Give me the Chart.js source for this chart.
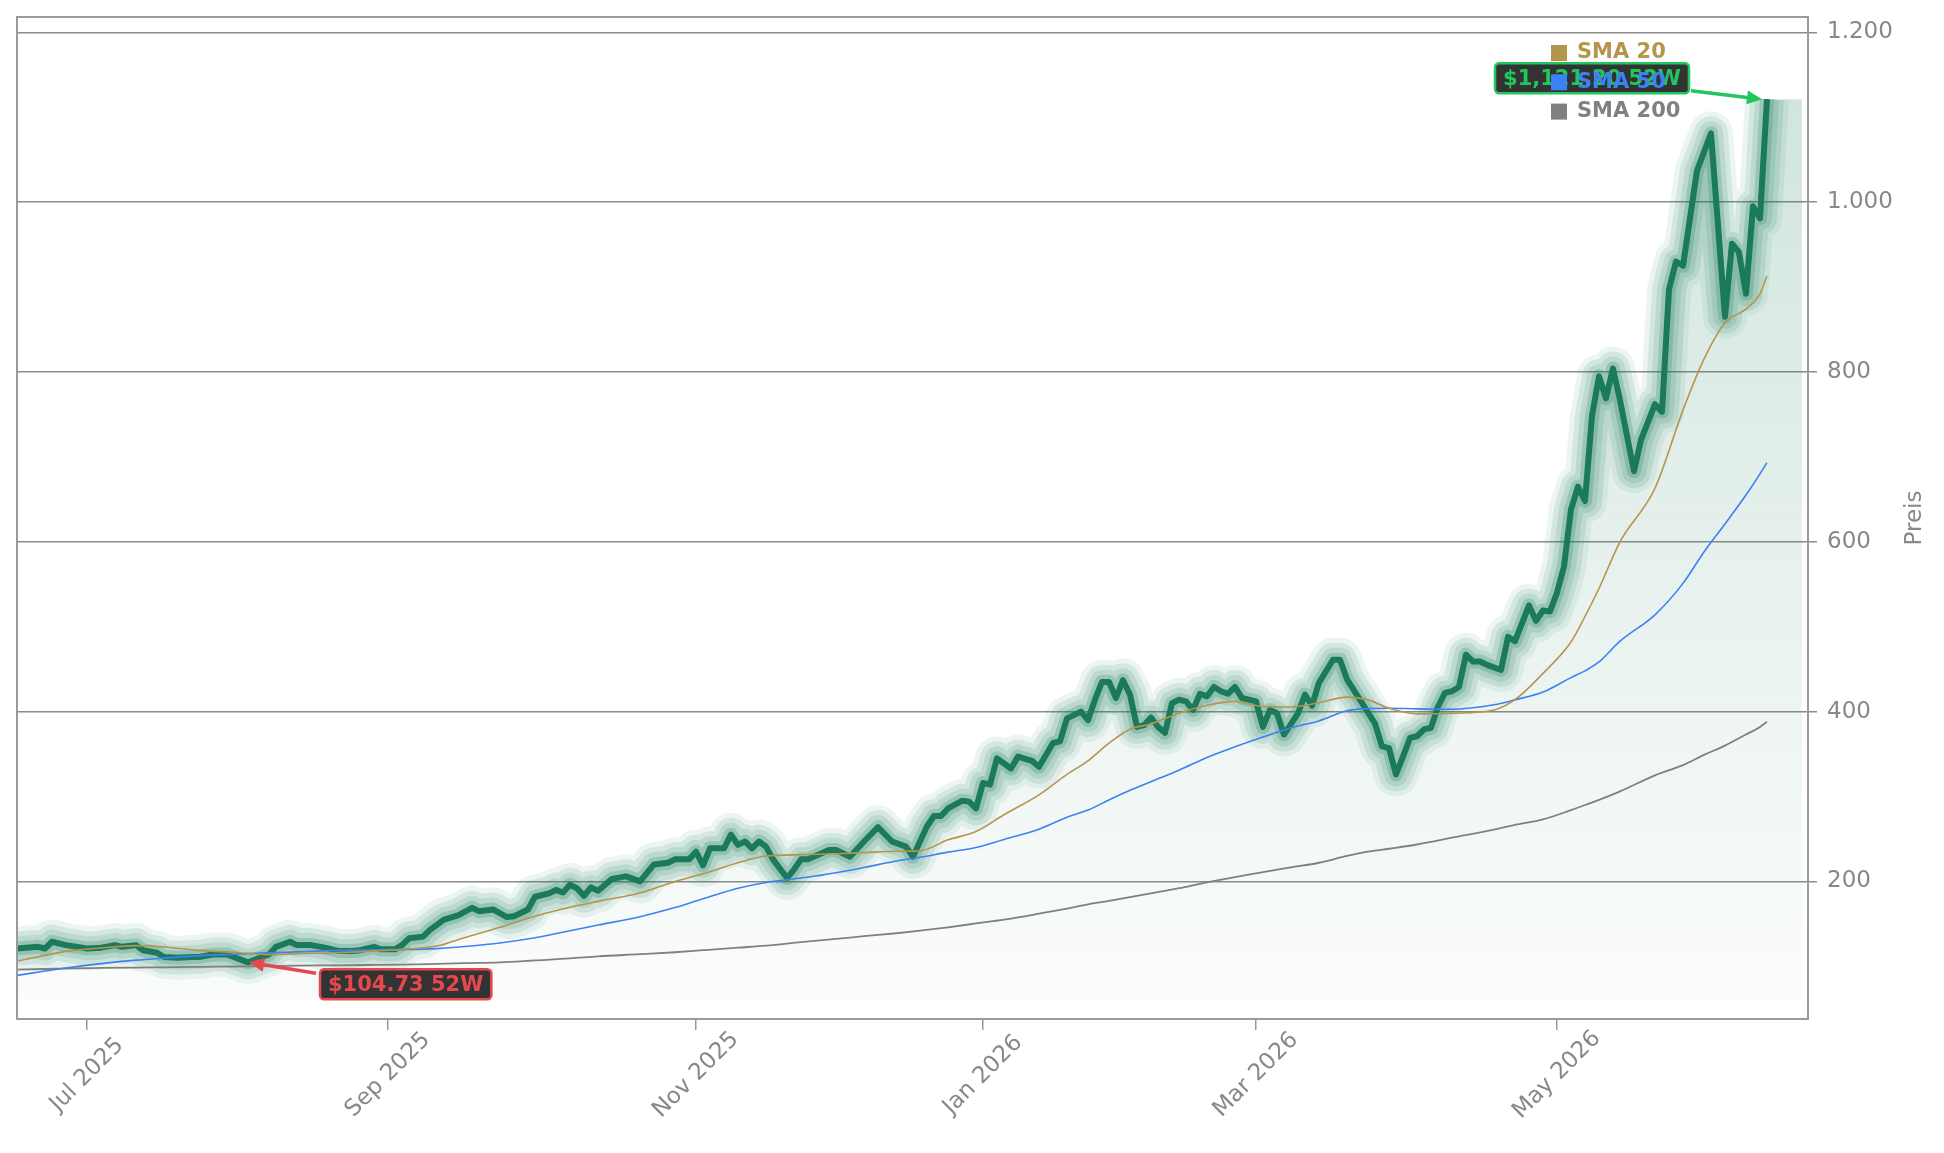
<!DOCTYPE html>
<html>
<head>
<meta charset="utf-8">
<title>Preis</title>
<script src="https://cdn.jsdelivr.net/npm/chart.js@4.4.1/dist/chart.umd.min.js"></script>
<style>
  html, body { margin: 0; padding: 0; background: #fff; }
</style>
</head>
<body>
<canvas id="priceChart" width="1944" height="1153"></canvas>
<script>
// trading-day index (0 = mid Jun 2025) and closing price at the turning points of the line
const priceIdx = [0, 3, 4, 5, 7, 10, 12, 14, 15, 17, 18, 20, 21, 23, 25, 26, 28, 30, 33, 35, 36, 37, 39, 40, 42, 44, 46, 48, 49, 51, 52, 54, 55, 56, 58, 59, 61, 63, 65, 66, 68, 70, 71, 73, 74, 76, 77, 78, 79, 80, 81, 82, 83, 85, 87, 89, 91, 93, 94, 96, 97, 98, 99, 101, 102, 103, 104, 105, 106, 107, 108, 110, 111, 112, 113, 116, 117, 119, 121, 123, 125, 127, 128, 130, 131, 132, 133, 135, 136, 137, 138, 139, 140, 142, 143, 145, 146, 148, 149, 150, 152, 153, 154, 155, 156, 157, 158, 159, 160, 161, 162, 163, 164, 165, 166, 167, 168, 169, 170, 171, 172, 173, 174, 175, 177, 178, 179, 180, 181, 183, 184, 185, 186, 188, 189, 190, 192, 194, 195, 196, 197, 198, 199, 200, 201, 202, 203, 204, 205, 206, 207, 208, 209, 210, 212, 213, 214, 215, 216, 217, 218, 219, 220, 221, 222, 223, 224, 225, 226, 227, 228, 229, 231, 232, 234, 235, 236, 237, 238, 240, 242, 244, 245, 246, 247, 248, 249, 250];
const priceVal = [121, 123, 121, 129, 125, 121, 122, 125, 123, 125, 119, 116, 111, 110, 111, 111, 114, 114, 104.73, 111, 114, 123, 129, 125, 125, 122, 118, 118, 119, 123, 120, 120, 125, 133, 135, 143, 155, 160, 169, 165, 167, 158, 159, 167, 182, 186, 190, 187, 196, 192, 183, 193, 189, 203, 206, 200, 220, 222, 226, 226, 235, 219, 239, 239, 255, 243, 247, 239, 247, 241, 226, 204, 214, 226, 226, 237, 237, 229, 247, 264, 247, 241, 229, 265, 277, 277, 286, 295, 294, 286, 316, 314, 345, 333, 347, 342, 335, 363, 365, 392, 400, 390, 414, 435, 435, 416, 437, 420, 382, 384, 393, 382, 375, 410, 414, 412, 402, 421, 418, 429, 424, 421, 429, 416, 412, 382, 402, 398, 373, 398, 420, 407, 434, 461, 461, 438, 412, 386, 359, 357, 326, 347, 369, 371, 379, 381, 406, 422, 424, 429, 467, 459, 459, 455, 449, 488, 483, 504, 525, 507, 519, 518, 540, 571, 638, 665, 648, 748, 795, 769, 804, 767, 683, 720, 762, 753, 897, 930, 925, 1037, 1081, 865, 951, 941, 892, 995, 981, 1121.2];

// moving averages, read at a coarser set of trading days
const smaIdx = [0, 7, 12, 17, 21, 26, 31, 36, 40, 45, 50, 55, 60, 64, 69, 74, 79, 83, 89, 94, 98, 103, 107, 112, 117, 121, 126, 129, 133, 137, 141, 146, 150, 153, 156, 159, 162, 166, 170, 174, 178, 182, 186, 190, 193, 196, 200, 205, 211, 214, 218, 222, 224, 226, 229, 234, 238, 241, 244, 247, 249, 250];
const sma20 = [106, 117.6, 121.6, 124.4, 122.8, 118.8, 116.5, 113.8, 115, 115.8, 117.6, 120, 124, 134, 146, 159, 169.5, 176.5, 186.4, 200, 209, 222, 230, 231.4, 232.6, 234, 235.5, 236, 249, 258.8, 278.5, 302, 326, 342, 362.8, 379.3, 385.5, 398, 407.5, 412, 406, 405.5, 410.5, 417, 413.8, 404, 397.3, 398, 402, 414, 445, 482, 512, 545, 600, 663, 755, 815, 858, 874, 892, 913];
const sma50 = [89.4, 98.1, 103.2, 107.3, 109.7, 112.6, 114.3, 115.9, 117, 118.5, 119.2, 119.7, 120.9, 123.4, 127.5, 133.6, 142, 148.6, 158.5, 169.2, 179.5, 192, 198.8, 204, 210.3, 216.5, 224.7, 228.5, 234.5, 240, 249.5, 261.5, 275.5, 284, 296, 307.5, 317.5, 331, 346, 358.5, 370, 381, 389, 401, 403.5, 404, 403.2, 402.8, 408, 413.8, 423, 440, 448, 458.5, 483, 514, 551, 588, 621, 655, 680, 693.3];
const sma200 = [96.1, 97.5, 98.1, 98.6, 98.9, 99.3, 99.8, 100.3, 100.8, 101.2, 101.6, 102, 102.9, 103.7, 104.7, 107, 109.3, 111.8, 114.3, 116.6, 119, 122, 124.4, 128.5, 132.3, 135.5, 139.3, 142, 146, 150.5, 155, 162, 168, 173, 177, 181.5, 186, 192, 199, 205, 211, 216.5, 222, 230, 235, 238.5, 243.5, 251.5, 261, 266.5, 273, 284, 290, 296, 306, 325, 337, 349, 360, 373, 382, 388];

// first trading day of every second month
const monthTickIdx = [10, 53, 97, 138, 177, 220];
const monthLabels = ['Jul 2025', 'Sep 2025', 'Nov 2025', 'Jan 2026', 'Mar 2026', 'May 2026'];
const yTicks = [200, 400, 600, 800, 1000, 1200];

const lowIdx = 33, lowVal = 104.73;
const highIdx = 250, highVal = 1121.2;
const fillEndIdx = 255;
const fillBase = 60;

const GREEN = 'rgb(26,122,90)';
const GOLD = '#b5954b';
const BLUE = '#3b82f6';
const GRAY = '#808080';

const toPoints = (xs, ys) => xs.map((x, i) => ({ x: x, y: ys[i] }));
const pricePoints = toPoints(priceIdx, priceVal);
const fillPoints = pricePoints.concat([{ x: fillEndIdx, y: priceVal[priceVal.length - 1] }]);

const dotThousands = v => String(v).replace(/\B(?=(\d{3})+(?!\d))/g, '.');
const usd = v => '$' + v.toLocaleString('en-US', { minimumFractionDigits: 2, maximumFractionDigits: 2 });

function line(label, data, color, width, order, extra) {
  return Object.assign({
    label: label,
    data: data,
    borderColor: color,
    borderWidth: width,
    pointRadius: 0,
    fill: false,
    tension: 0,
    borderJoinStyle: 'round',
    borderCapStyle: 'butt',
    order: order
  }, extra || {});
}

const glowWidths = [44, 34, 24, 14];
const glowAlpha = [0.08, 0.12, 0.13, 0.22];

function drawCallout(ctx, tip, from, text, color, box) {
  ctx.font = 'bold 21px "DejaVu Sans"';
  const w = ctx.measureText(text).width + 16;
  const left = box.alignRight ? box.x - w : box.x;

  // arrow
  const ang = Math.atan2(tip.y - from.y, tip.x - from.x);
  const hl = 15;
  const bx = tip.x - hl * Math.cos(ang);
  const by = tip.y - hl * Math.sin(ang);
  ctx.strokeStyle = color;
  ctx.fillStyle = color;
  ctx.lineWidth = 3.5;
  ctx.beginPath();
  ctx.moveTo(from.x, from.y);
  ctx.lineTo(bx, by);
  ctx.stroke();
  ctx.beginPath();
  ctx.moveTo(tip.x, tip.y);
  ctx.lineTo(bx + 7 * Math.sin(ang), by - 7 * Math.cos(ang));
  ctx.lineTo(bx - 7 * Math.sin(ang), by + 7 * Math.cos(ang));
  ctx.closePath();
  ctx.fill();

  // box
  ctx.beginPath();
  ctx.roundRect(left, box.y, w, 30, 4);
  ctx.fillStyle = 'rgba(40,40,40,0.95)';
  ctx.fill();
  ctx.lineWidth = 2.5;
  ctx.strokeStyle = color;
  ctx.stroke();
  ctx.fillStyle = color;
  ctx.textAlign = 'left';
  ctx.textBaseline = 'middle';
  ctx.fillText(text, left + 8, box.y + 16);
}

const extras = {
  id: 'extras',
  afterDraw(chart) {
    const { ctx, chartArea: a, scales: { x, y } } = chart;
    ctx.save();

    // frame round the plot
    ctx.strokeStyle = '#9a9a9a';
    ctx.lineWidth = 2;
    ctx.strokeRect(a.left, a.top, a.right - a.left, a.bottom - a.top);

    // month labels, rotated round their centre
    ctx.fillStyle = '#888';
    ctx.font = '23px "DejaVu Sans"';
    ctx.textAlign = 'center';
    ctx.textBaseline = 'middle';
    monthTickIdx.forEach((v, i) => {
      ctx.save();
      ctx.translate(x.getPixelForValue(v), a.bottom + 56);
      ctx.rotate(-Math.PI / 4);
      ctx.fillText(monthLabels[i], 0, 0);
      ctx.restore();
    });

    // axis title
    ctx.save();
    ctx.translate(a.right + 107, (a.top + a.bottom) / 2);
    ctx.rotate(-Math.PI / 2);
    ctx.font = '23px "DejaVu Sans"';
    ctx.fillText('Preis', 0, 0);
    ctx.restore();

    // 52 week low / high
    const lx = x.getPixelForValue(lowIdx), ly = y.getPixelForValue(lowVal);
    drawCallout(ctx, { x: lx + 1, y: ly }, { x: lx + 68, y: ly + 11 },
      usd(lowVal) + ' 52W', '#e5484d', { x: lx + 72, y: ly + 7 });
    const hx = x.getPixelForValue(highIdx), hy = y.getPixelForValue(highVal);
    drawCallout(ctx, { x: hx - 5, y: hy }, { x: hx - 76, y: hy - 8.5 },
      usd(highVal) + ' 52W', '#22c55e', { alignRight: true, x: hx - 78, y: hy - 36 });

    // legend
    const items = [['SMA 20', GOLD], ['SMA 50', BLUE], ['SMA 200', GRAY]];
    ctx.font = 'bold 21px "DejaVu Sans"';
    ctx.textAlign = 'left';
    ctx.textBaseline = 'middle';
    items.forEach((it, i) => {
      const cy = a.top + 36 + i * 29.3;
      ctx.fillStyle = it[1];
      ctx.fillRect(a.right - 257, cy - 8, 16, 16);
      ctx.fillText(it[0], a.right - 231, cy);
    });

    ctx.restore();
  }
};

const datasets = [
  line('SMA 20', toPoints(smaIdx, sma20), GOLD, 1.6, 0, { cubicInterpolationMode: 'monotone' }),
  line('SMA 50', toPoints(smaIdx, sma50), BLUE, 1.6, 1, { cubicInterpolationMode: 'monotone' }),
  line('SMA 200', toPoints(smaIdx, sma200), GRAY, 1.8, 2, { cubicInterpolationMode: 'monotone' }),
  line('Preis', pricePoints, GREEN, 6, 3)
];
glowWidths.forEach((w, i) => {
  datasets.push(line('glow' + i, pricePoints, 'rgba(26,122,90,' + glowAlpha[i] + ')', w, 7 - i));
});
datasets.push({
  label: 'area',
  data: fillPoints,
  borderWidth: 0,
  pointRadius: 0,
  tension: 0,
  order: 8,
  fill: { value: fillBase },
  backgroundColor(context) {
    const chart = context.chart;
    const { ctx, chartArea, scales } = chart;
    if (!chartArea) return 'rgba(26,122,90,0.08)';
    const g = ctx.createLinearGradient(0, scales.y.getPixelForValue(highVal), 0, scales.y.getPixelForValue(fillBase));
    g.addColorStop(0, 'rgba(26,122,90,0.20)');
    g.addColorStop(1, 'rgba(26,122,90,0.02)');
    return g;
  }
});

new Chart(document.getElementById('priceChart').getContext('2d'), {
  type: 'line',
  data: { datasets: datasets },
  options: {
    responsive: false,
    devicePixelRatio: 1,
    animation: false,
    layout: { padding: { left: 17, top: 17, right: 0, bottom: 0 } },
    plugins: {
      legend: { display: false },
      tooltip: { enabled: false }
    },
    scales: {
      x: {
        type: 'linear',
        min: 0,
        max: 255.86,
        afterBuildTicks: scale => { scale.ticks = monthTickIdx.map(v => ({ value: v })); },
        afterFit: scale => { scale.height = 134; scale.paddingLeft = 0; scale.paddingRight = 0; },
        ticks: { display: false },
        grid: { drawOnChartArea: false, drawTicks: true, tickLength: 11, color: '#999', lineWidth: 1.5 },
        border: { display: false }
      },
      y: {
        position: 'right',
        min: 38,
        max: 1218,
        afterBuildTicks: scale => { scale.ticks = yTicks.map(v => ({ value: v })); },
        afterFit: scale => { scale.width = 136; scale.paddingTop = 0; scale.paddingBottom = 0; },
        ticks: {
          color: '#888',
          font: { family: 'DejaVu Sans', size: 23 },
          padding: 10,
          callback: v => dotThousands(v)
        },
        grid: { color: '#8c8c8c', lineWidth: 1.5, tickLength: 9 },
        border: { display: false }
      }
    }
  },
  plugins: [extras]
});
</script>
</body>
</html>
